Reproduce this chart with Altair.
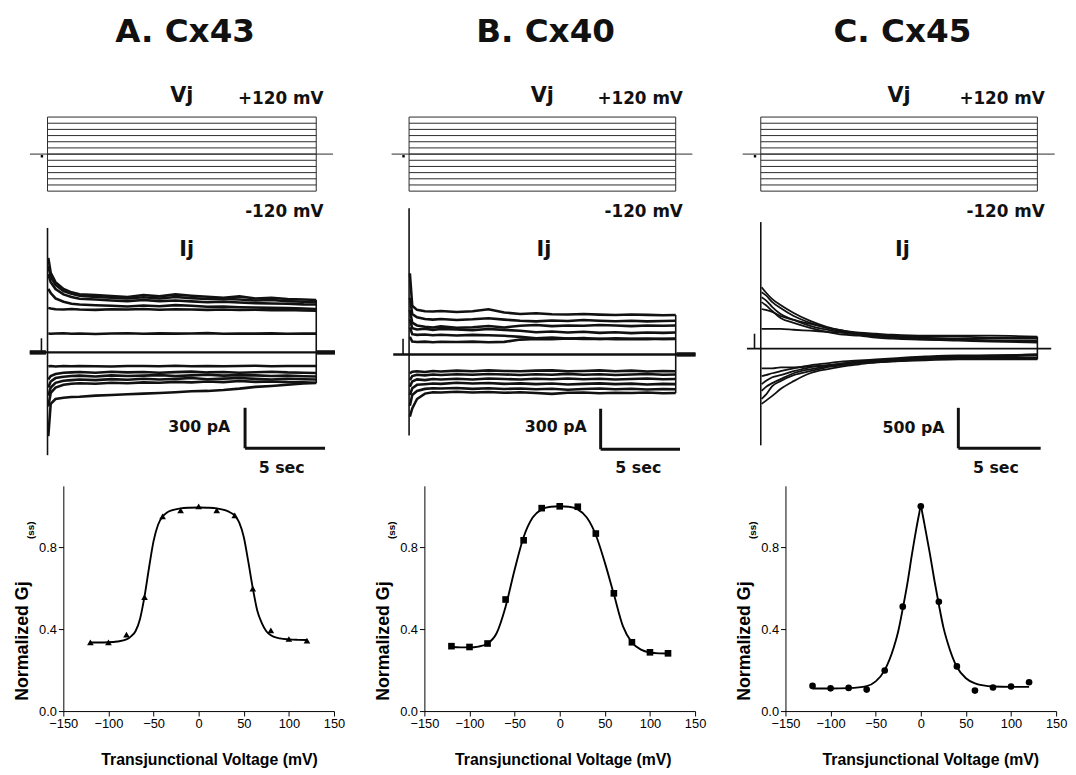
import altair as alt
import pandas as pd

# ---------------- voltage protocol ----------------
vj_steps_mV = [-120, -100, -80, -60, -40, -20, 0, 20, 40, 60, 80, 100, 120]
pulse_s = 16.8
holding_span_s = [-1.1, 17.85]
prepulse_dot = [-0.35, -7]

# ---------------- junctional current traces (pA) ----------------
t_ab = [0.05, 0.2, 0.5, 1, 1.5, 2, 3, 4, 5, 6, 7, 8, 9, 10, 11, 12, 13, 14, 15, 16, 16.8]
t_c = [0.05, 0.3, 0.7, 1.2, 2, 3, 4, 5, 6, 7, 8, 10, 12, 14, 16.8]

cx43_p120 = [700, 590, 520, 470, 445, 430, 425, 418, 410, 425, 415, 430, 420, 412, 405, 415, 400, 405, 395, 392, 388]
cx43_p100 = [640, 560, 500, 455, 435, 420, 410, 405, 400, 408, 400, 410, 402, 395, 398, 392, 385, 388, 380, 375, 372]
cx43_p80 = [580, 520, 470, 430, 410, 398, 392, 385, 380, 388, 380, 385, 378, 372, 376, 370, 365, 362, 360, 356, 355]
cx43_p60 = [470, 440, 400, 375, 360, 355, 350, 345, 340, 348, 342, 350, 345, 338, 340, 335, 332, 330, 328, 325, 322]
cx43_p40 = [330, 325, 320, 318, 322, 318, 315, 320, 318, 322, 316, 320, 318, 315, 318, 314, 316, 312, 314, 310, 308]
cx43_p20 = [140, 138, 140, 142, 138, 140, 137, 140, 142, 138, 141, 139, 140, 143, 138, 140, 139, 141, 138, 140, 139]
cx43_m20 = [-102, -100, -104, -101, -103, -100, -102, -104, -100, -101, -103, -99, -102, -100, -103, -101, -99, -102, -100, -101, -100]
cx43_m40 = [-200, -175, -160, -150, -148, -145, -150, -143, -148, -145, -150, -146, -142, -148, -145, -150, -147, -143, -148, -150, -152]
cx43_m60 = [-260, -215, -190, -180, -175, -172, -178, -170, -175, -172, -168, -175, -170, -165, -172, -168, -170, -175, -172, -176, -178]
cx43_m80 = [-320, -260, -225, -210, -205, -200, -205, -198, -202, -195, -200, -196, -190, -198, -194, -190, -196, -200, -195, -198, -200]
cx43_m100 = [-400, -300, -260, -240, -232, -228, -232, -225, -228, -222, -225, -218, -222, -215, -220, -212, -218, -215, -220, -222, -225]
cx43_m120 = [-620, -380, -345, -335, -330, -328, -320, -315, -310, -305, -300, -295, -288, -285, -278, -268, -255, -248, -240, -230, -227]

cx40_p120 = [600, 360, 330, 320, 318, 322, 315, 320, 335, 310, 300, 305, 298, 296, 300, 295, 292, 296, 293, 290, 292]
cx40_p100 = [420, 300, 275, 262, 258, 262, 255, 260, 268, 258, 250, 245, 252, 248, 255, 250, 246, 250, 245, 248, 250]
cx40_p80 = [330, 235, 215, 205, 200, 208, 198, 202, 210, 200, 212, 218, 210, 215, 212, 218, 214, 210, 215, 212, 215]
cx40_p60 = [260, 195, 185, 190, 182, 188, 185, 180, 188, 182, 175, 165, 170, 162, 168, 160, 165, 158, 162, 160, 163]
cx40_p40 = [200, 150, 145, 148, 142, 146, 140, 145, 142, 138, 130, 120, 125, 118, 122, 115, 120, 116, 118, 115, 117]
cx40_p20 = [130, 95, 92, 95, 90, 94, 92, 95, 90, 93, 110, 115, 112, 118, 114, 116, 112, 115, 113, 116, 115]
cx40_m20 = [-140, -128, -125, -130, -122, -126, -120, -124, -118, -122, -125, -120, -118, -125, -122, -118, -124, -120, -126, -122, -124]
cx40_m40 = [-190, -160, -150, -155, -148, -152, -146, -150, -145, -148, -152, -146, -150, -144, -150, -147, -152, -148, -145, -150, -148]
cx40_m60 = [-240, -200, -185, -190, -182, -186, -180, -185, -178, -182, -186, -180, -184, -178, -183, -180, -186, -182, -178, -184, -182]
cx40_m80 = [-300, -250, -225, -220, -215, -218, -210, -215, -212, -218, -214, -220, -215, -222, -218, -214, -220, -216, -222, -218, -220]
cx40_m100 = [-380, -300, -270, -255, -250, -252, -248, -255, -250, -256, -252, -258, -254, -262, -256, -252, -258, -254, -260, -256, -258]
cx40_m120 = [-460, -400, -330, -290, -280, -282, -276, -282, -278, -284, -280, -286, -292, -284, -282, -288, -284, -286, -282, -288, -286]

cx45_p120 = [756, 695, 610, 537, 439, 341, 268, 220, 195, 183, 171, 159, 159, 159, 146]
cx45_p100 = [695, 659, 573, 500, 402, 317, 256, 207, 183, 171, 159, 146, 146, 134, 134]
cx45_p80 = [634, 598, 512, 427, 354, 280, 232, 195, 171, 159, 146, 134, 122, 122, 122]
cx45_p60 = [573, 537, 463, 378, 317, 256, 207, 171, 159, 134, 122, 110, 110, 98, 98]
cx45_p40 = [488, 476, 451, 402, 354, 305, 256, 220, 183, 159, 146, 122, 110, 98, 85]
cx45_p20 = [244, 244, 244, 244, 232, 220, 207, 195, 171, 146, 134, 110, 98, 85, 73]
cx45_m20 = [-244, -244, -244, -232, -232, -220, -207, -183, -159, -146, -134, -110, -98, -85, -73]
cx45_m40 = [-341, -329, -305, -280, -244, -207, -183, -159, -146, -134, -122, -98, -85, -85, -73]
cx45_m60 = [-439, -402, -354, -329, -280, -232, -207, -183, -159, -146, -134, -110, -98, -98, -85]
cx45_m80 = [-524, -476, -427, -378, -305, -256, -220, -195, -171, -159, -146, -122, -110, -110, -110]
cx45_m100 = [-622, -573, -463, -402, -329, -280, -232, -207, -183, -171, -159, -134, -122, -122, -122]
cx45_m120 = [-683, -646, -585, -500, -402, -305, -256, -220, -195, -171, -159, -146, -134, -134, -134]

# onset transient (min, max pA), prepulse blip (pA), scale bars
onset_cx43 = [-761, 922]
onset_cx40 = [-600, 1083]
onset_cx45 = [-1195, 1561]
blip_pA = [105, 117, 183]
scalebar_pA = [300, 300, 500]
scalebar_s = 5

# ---------------- steady-state Gj ----------------
vj_mV = [-120, -100, -80, -60, -40, -20, 0, 20, 40, 60, 80, 100, 120]
gj_cx43 = [0.336, 0.336, 0.373, 0.557, 0.951, 0.98, 1.0, 0.98, 0.956, 0.598, 0.394, 0.352, 0.344]
gj_cx40 = [0.317, 0.313, 0.330, 0.545, 0.834, 0.991, 1.0, 0.998, 0.867, 0.575, 0.336, 0.287, 0.282]
gj_cx45 = [0.123, 0.111, 0.113, 0.105, 0.198, 0.51, 1.0, 0.534, 0.218, 0.10, 0.115, 0.12, 0.141]

fit_v_cx43 = [-120, -110, -100, -90, -80, -75, -70, -65, -60, -55, -50, -45, -40, -35, -30, -20, -10, 0,
              10, 20, 30, 35, 40, 45, 50, 55, 60, 65, 70, 75, 80, 90, 100, 110, 120]
fit_g_cx43 = [0.335, 0.335, 0.336, 0.34, 0.35, 0.365, 0.39, 0.45, 0.56, 0.70, 0.83, 0.91, 0.95, 0.97, 0.98, 0.99, 0.993, 0.994,
              0.993, 0.99, 0.98, 0.97, 0.955, 0.92, 0.85, 0.73, 0.60, 0.49, 0.43, 0.39, 0.37, 0.355, 0.35, 0.348, 0.347]
fit_v_cx40 = [-120, -110, -100, -90, -80, -70, -60, -50, -40, -30, -20, -10, 0, 10, 20, 30, 40, 50, 60, 70, 80, 90, 100, 110, 120]
fit_g_cx40 = [0.313, 0.311, 0.311, 0.315, 0.33, 0.38, 0.51, 0.69, 0.85, 0.945, 0.985, 0.998, 1.0, 0.998, 0.985, 0.945,
              0.86, 0.725, 0.57, 0.415, 0.335, 0.30, 0.286, 0.282, 0.281]
fit_v_cx45 = [-120, -100, -80, -60, -50, -40, -30, -25, -20, -15, -10, -5, -2, 0, 2, 5, 10, 15, 20, 25, 30, 40, 50, 60, 80, 100, 120]
fit_g_cx45 = [0.11, 0.11, 0.112, 0.122, 0.145, 0.2, 0.31, 0.39, 0.5, 0.62, 0.76, 0.89, 0.96, 1.0, 0.96, 0.89, 0.77,
              0.64, 0.52, 0.41, 0.33, 0.215, 0.16, 0.135, 0.12, 0.118, 0.118]

# ---------------- layout (positions in data units, not data) ----------------
PW = 274
COL_GAP = 91.5
VJ_H, IJ_H, GJ_H = 160, 266, 228
VJ_DOM = [-223.4, 288.6]
LABEL_FONT = "DejaVu Sans"
AX_FONT = "Liberation Sans"
INK = "#111111"
# invisible layout anchors that pin the drawing's top-left corner to the page margin
TOP_ANCHOR_MV = 455
LEFT_ANCHOR_MV = -210

LAY = {
    "cx43": dict(title="A. Cx43", t_dom=[0.988, 17.91], ij_dom=[-988, 958], ij_lab=[8.7, 717],
                 bar=[12.35, -410], bar_lab=[11.43, -556], sec_lab=[14.64, -856],
                 thick=[[-1.11, -0.1], [16.85, 17.97]], base=[-1.11, 17.97], xt=12, shape="triangle-up"),
    "cx40": dict(title="B. Cx40", t_dom=[0.965, 18.02], ij_dom=[-973, 973], ij_lab=[8.5, 731],
                 bar=[12.07, -402], bar_lab=[11.2, -541], sec_lab=[14.44, -841],
                 thick=[[16.85, 18.05]], base=[-1.0, 18.05], xt=4, shape="square"),
    "cx45": dict(title="C. Cx45", t_dom=[1.5, 17.94], ij_dom=[-1695, 1549], ij_lab=[8.6, 1146],
                 bar=[12.0, -732], bar_lab=[11.16, -976], sec_lab=[14.28, -1476],
                 thick=[], base=[-0.84, 17.64], xt=11, shape="circle"),
}

TRACES = {
    "cx43": (t_ab, {"p120": cx43_p120, "p100": cx43_p100, "p80": cx43_p80, "p60": cx43_p60, "p40": cx43_p40,
                    "p20": cx43_p20, "m20": cx43_m20, "m40": cx43_m40, "m60": cx43_m60, "m80": cx43_m80,
                    "m100": cx43_m100, "m120": cx43_m120}, onset_cx43, blip_pA[0], scalebar_pA[0]),
    "cx40": (t_ab, {"p120": cx40_p120, "p100": cx40_p100, "p80": cx40_p80, "p60": cx40_p60, "p40": cx40_p40,
                    "p20": cx40_p20, "m20": cx40_m20, "m40": cx40_m40, "m60": cx40_m60, "m80": cx40_m80,
                    "m100": cx40_m100, "m120": cx40_m120}, onset_cx40, blip_pA[1], scalebar_pA[1]),
    "cx45": (t_c, {"p120": cx45_p120, "p100": cx45_p100, "p80": cx45_p80, "p60": cx45_p60, "p40": cx45_p40,
                   "p20": cx45_p20, "m20": cx45_m20, "m40": cx45_m40, "m60": cx45_m60, "m80": cx45_m80,
                   "m100": cx45_m100, "m120": cx45_m120}, onset_cx45, blip_pA[2], scalebar_pA[2]),
}

GJ = {
    "cx43": (gj_cx43, fit_v_cx43, fit_g_cx43),
    "cx40": (gj_cx40, fit_v_cx40, fit_g_cx40),
    "cx45": (gj_cx45, fit_v_cx45, fit_g_cx45),
}


def qx(field, scale, axis=None):
    return alt.X(f"{field}:Q", scale=scale, axis=axis)


def qy(field, scale, axis=None):
    return alt.Y(f"{field}:Q", scale=scale, axis=axis)


def label_layer(df, xs, ys, size, align="center", baseline="alphabetic", font=LABEL_FONT):
    return alt.Chart(df).mark_text(fontSize=size, font=font, fontWeight="bold", color=INK,
                                   align=align, baseline=baseline).encode(
        x=qx("x", xs), y=qy("y", ys), text="label:N")


def vj_panel(key):
    L = LAY[key]
    xs = alt.Scale(domain=L["t_dom"], nice=False, zero=False)
    ys = alt.Scale(domain=VJ_DOM, nice=False, zero=False)
    n = len(vj_steps_mV)
    steps = pd.DataFrame({"v": vj_steps_mV, "t0": [0.0] * n, "t1": [pulse_s] * n})
    lines = alt.Chart(steps).mark_rule(color="#2a2a2a", strokeWidth=1).encode(
        x=qx("t0", xs), x2="t1:Q", y=qy("v", ys))
    edges_df = pd.DataFrame({"t": [0.0, pulse_s], "lo": [min(vj_steps_mV)] * 2, "hi": [max(vj_steps_mV)] * 2})
    edges = alt.Chart(edges_df).mark_rule(color="#2a2a2a", strokeWidth=1).encode(
        x=qx("t", xs), y=qy("lo", ys), y2="hi:Q")
    hold_df = pd.DataFrame({"t0": [holding_span_s[0]], "t1": [holding_span_s[1]], "v": [0]})
    hold = alt.Chart(hold_df).mark_rule(color="#2a2a2a", strokeWidth=1).encode(
        x=qx("t0", xs), x2="t1:Q", y=qy("v", ys))
    dot_df = pd.DataFrame({"t": [prepulse_dot[0]], "v": [prepulse_dot[1]]})
    dot = alt.Chart(dot_df).mark_square(color="black", size=6, opacity=1).encode(x=qx("t", xs), y=qy("v", ys))
    title = label_layer(pd.DataFrame({"x": [8.6], "y": [362], "label": [L["title"]]}), xs, ys, 33)
    vj = label_layer(pd.DataFrame({"x": [8.4], "y": [170], "label": ["Vj"]}), xs, ys, 21)
    mv = label_layer(pd.DataFrame({"x": [17.25, 17.25], "y": [163.5, -204], "label": ["+120 mV", "-120 mV"]}),
                     xs, ys, 17, align="right")
    layers = [lines, edges, hold, dot, title, vj, mv]
    if key == "cx43":
        anchor = alt.Chart(pd.DataFrame({"t": [5.0], "v0": [TOP_ANCHOR_MV], "v1": [TOP_ANCHOR_MV - 5]})).mark_rule(
            color="white", opacity=0, strokeWidth=0.1).encode(x=qx("t", xs), y=qy("v0", ys), y2="v1:Q")
        layers.append(anchor)
    return alt.layer(*layers).properties(width=PW, height=VJ_H)


def ij_panel(key):
    L = LAY[key]
    t, traces, onset, blip, bar_pA = TRACES[key]
    xs = alt.Scale(domain=L["t_dom"], nice=False, zero=False)
    ys = alt.Scale(domain=L["ij_dom"], nice=False, zero=False)
    rows = []
    for name, vals in traces.items():
        for ti, vi in zip(t, vals):
            rows.append({"trace": name, "t": ti, "i": vi})
    tr_df = pd.DataFrame(rows)
    smooth = key == "cx45"
    lines = alt.Chart(tr_df).mark_line(color=INK, strokeWidth=1.8 if smooth else 2.6,
                                       interpolate="monotone" if smooth else "linear").encode(
        x=qx("t", xs), y=qy("i", ys), detail="trace:N", order="t:Q")
    ends = [vals[-1] for vals in traces.values()]
    vr_df = pd.DataFrame({"t": [0.0, pulse_s, -0.38], "lo": [onset[0], min(ends), 0],
                          "hi": [onset[1], max(ends), blip]})
    vrules = alt.Chart(vr_df).mark_rule(color=INK, strokeWidth=1.6).encode(
        x=qx("t", xs), y=qy("lo", ys), y2="hi:Q")
    base_df = pd.DataFrame({"t0": [L["base"][0]], "t1": [L["base"][1]], "i": [0]})
    base = alt.Chart(base_df).mark_rule(color=INK, strokeWidth=1.8 if smooth else 2.4).encode(
        x=qx("t0", xs), x2="t1:Q", y=qy("i", ys))
    layers = [lines, vrules, base]
    if L["thick"]:
        th_df = pd.DataFrame({"t0": [a for a, b in L["thick"]], "t1": [b for a, b in L["thick"]],
                              "i": [0] * len(L["thick"])})
        layers.append(alt.Chart(th_df).mark_rule(color=INK, strokeWidth=4.5).encode(
            x=qx("t0", xs), x2="t1:Q", y=qy("i", ys)))
    bx, by = L["bar"]
    bar_df = pd.DataFrame({"t0": [bx, bx], "t1": [bx, bx + scalebar_s],
                           "i0": [by, by - bar_pA], "i1": [by - bar_pA, by - bar_pA]})
    layers.append(alt.Chart(bar_df).mark_rule(color=INK, strokeWidth=3).encode(
        x=qx("t0", xs), x2="t1:Q", y=qy("i0", ys), y2="i1:Q"))
    layers.append(label_layer(pd.DataFrame({"x": [L["ij_lab"][0]], "y": [L["ij_lab"][1]], "label": ["Ij"]}),
                              xs, ys, 21))
    layers.append(label_layer(pd.DataFrame({"x": [L["bar_lab"][0]], "y": [L["bar_lab"][1]],
                                            "label": [f"{bar_pA} pA"]}), xs, ys, 16, align="right",
                              baseline="middle"))
    layers.append(label_layer(pd.DataFrame({"x": [L["sec_lab"][0]], "y": [L["sec_lab"][1]],
                                            "label": [f"{scalebar_s} sec"]}), xs, ys, 16, baseline="middle"))
    return alt.layer(*layers).properties(width=PW, height=IJ_H)


def gj_panel(key):
    L = LAY[key]
    g, fv, fg = GJ[key]
    xs = alt.Scale(domain=[-150, 150], nice=False, zero=False)
    ys = alt.Scale(domain=[0, 1.1], nice=False, zero=False)
    ax_x = alt.Axis(values=[-150, -100, -50, 0, 50, 100, 150], title=None, grid=False, tickSize=5,
                    labelFont=AX_FONT, labelFontSize=13, labelColor="black", domainColor="black",
                    tickColor="black", labelPadding=2, labelFlush=False)
    ax_y = alt.Axis(values=[0, 0.4, 0.8], format=".1f", title=None, grid=False, tickSize=5,
                    labelFont=AX_FONT, labelFontSize=13, labelColor="black", domainColor="black",
                    tickColor="black", labelPadding=2)
    pts = alt.Chart(pd.DataFrame({"x": vj_mV, "y": g})).mark_point(
        shape=L["shape"], filled=True, color="black", opacity=1, size=45).encode(
        x=qx("x", xs, ax_x), y=qy("y", ys, ax_y))
    fit = alt.Chart(pd.DataFrame({"x": fv, "y": fg})).mark_line(
        color="black", strokeWidth=1.9, interpolate="monotone").encode(
        x=qx("x", xs, ax_x), y=qy("y", ys, ax_y))
    ylab = alt.Chart(pd.DataFrame({"x": [-189], "y": [0.05], "label": ["Normalized Gj"]})).mark_text(
        font=AX_FONT, fontWeight="bold", fontSize=18, color="black", angle=270, align="left",
        baseline="alphabetic").encode(x=qx("x", xs, ax_x), y=qy("y", ys, ax_y), text="label:N")
    ss = alt.Chart(pd.DataFrame({"x": [-183], "y": [0.84], "label": ["(ss)"]})).mark_text(
        font=AX_FONT, fontWeight="bold", fontSize=10, color="black", angle=270, align="left",
        baseline="alphabetic").encode(x=qx("x", xs, ax_x), y=qy("y", ys, ax_y), text="label:N")
    xlab = alt.Chart(pd.DataFrame({"x": [L["xt"]], "y": [-0.24], "label": ["Transjunctional Voltage (mV)"]})).mark_text(
        font=AX_FONT, fontWeight="bold", fontSize=16, color="black", align="center",
        baseline="middle").encode(x=qx("x", xs, ax_x), y=qy("y", ys, ax_y), text="label:N")
    layers = [fit, pts, ylab, ss, xlab]
    if key == "cx43":
        anchor = alt.Chart(pd.DataFrame({"x0": [LEFT_ANCHOR_MV], "x1": [LEFT_ANCHOR_MV + 3], "y": [0.5]})).mark_rule(
            color="white", opacity=0, strokeWidth=0.1).encode(x=qx("x0", xs, ax_x), x2="x1:Q", y=qy("y", ys, ax_y))
        layers.append(anchor)
    return alt.layer(*layers).properties(width=PW, height=GJ_H)


keys = ["cx43", "cx40", "cx45"]
panels = [vj_panel(k) for k in keys] + [ij_panel(k) for k in keys] + [gj_panel(k) for k in keys]

chart = alt.concat(*panels, columns=3, spacing={"row": 0, "column": COL_GAP}, bounds="flush",
                   align="each").properties(
    padding={"left": 0, "top": 0, "right": 0, "bottom": 0}, background="white"
).configure_view(stroke="transparent")

chart.save("out.html", embed_options={"renderer": "svg", "actions": False})
